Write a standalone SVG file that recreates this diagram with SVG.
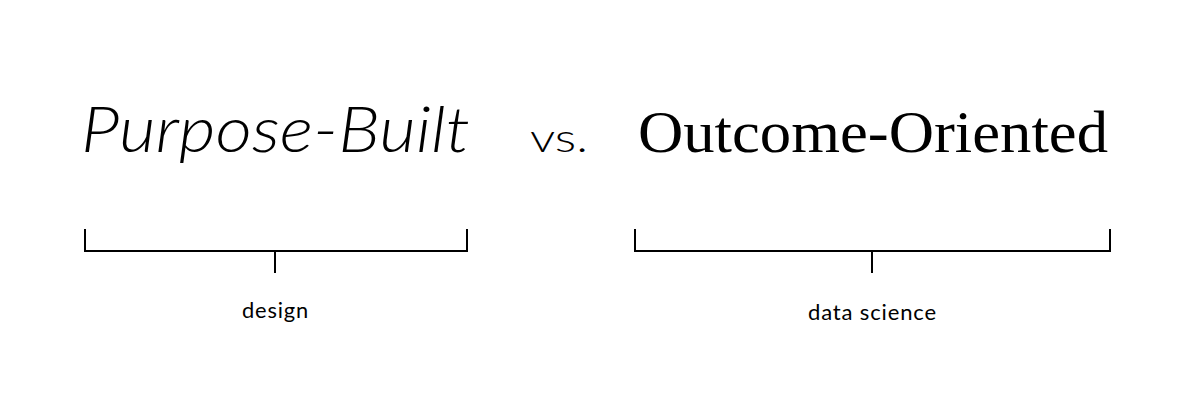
<svg xmlns="http://www.w3.org/2000/svg" width="1200" height="400" viewBox="0 0 1200 400">
<style>
.br{fill:none;stroke:#000;stroke-width:2}
.lbl{font-family:"Lato","Liberation Sans",sans-serif;font-size:21px;fill:#000;text-anchor:middle;letter-spacing:0.8px}
</style>
<rect width="1200" height="400" fill="#fff"/>
<g id="title-left"><text x="81" y="152" font-family="Lato, 'Liberation Sans', sans-serif" font-style="italic" font-weight="300" font-size="64" textLength="389" lengthAdjust="spacingAndGlyphs">Purpose-Built</text></g>
<g id="vs"><text x="530" y="152" font-family="Lato, 'Liberation Sans', sans-serif" font-weight="300" font-size="40" textLength="58" lengthAdjust="spacingAndGlyphs">vs.</text></g>
<g id="title-right"><text x="638" y="152" font-family="'Liberation Serif', serif" font-size="60" textLength="470" lengthAdjust="spacingAndGlyphs">Outcome-Oriented</text></g>
<g id="connectors">
<path class="br" d="M85 229 V251 H467 V229 M275 251 V273"/>
<path class="br" d="M635 229 V251 H1110 V229 M872 251 V273"/>
</g>
<g id="label-design"><text class="lbl" x="275.5" y="318" textLength="67" lengthAdjust="spacingAndGlyphs">design</text></g>
<g id="label-data-science"><text class="lbl" x="872.5" y="320" textLength="129" lengthAdjust="spacingAndGlyphs">data science</text></g>
</svg>
